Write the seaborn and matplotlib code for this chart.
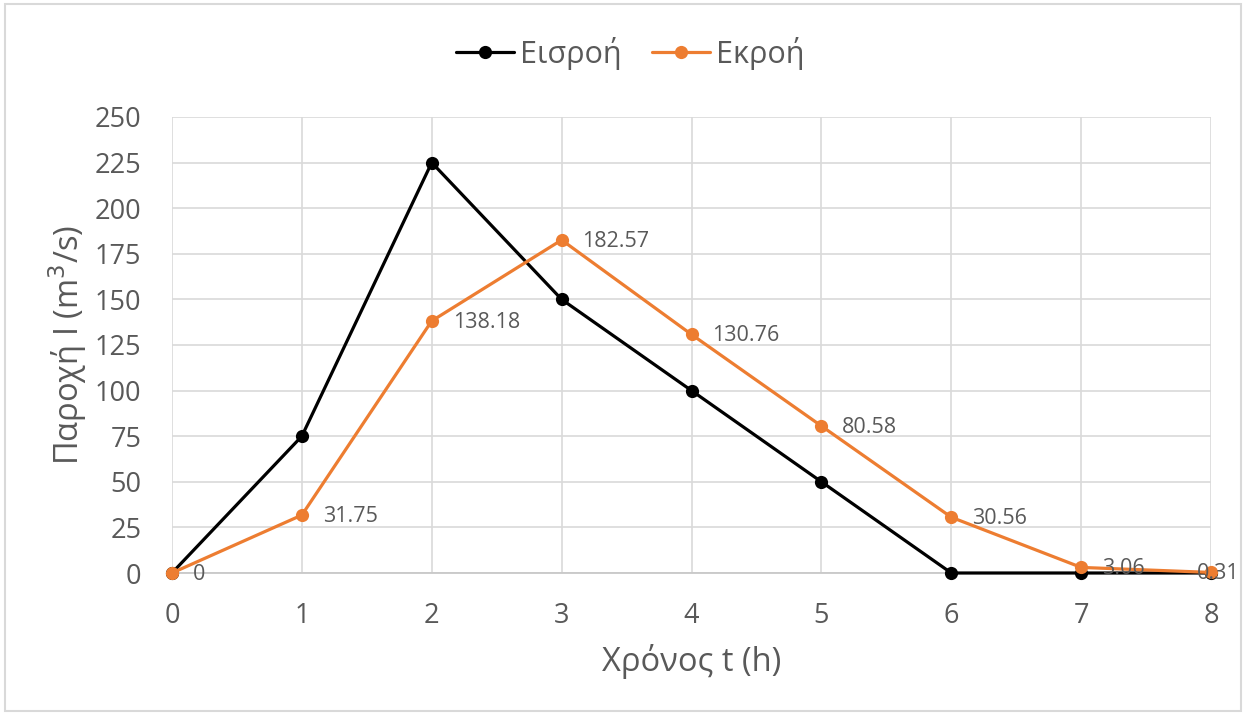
import matplotlib
matplotlib.use("Agg")
import matplotlib.pyplot as plt
import pandas as pd
import seaborn as sns

# Hydrograph data (hours, m3/s)
hours = [0, 1, 2, 3, 4, 5, 6, 7, 8]
inflow = [0, 75, 225, 150, 100, 50, 0, 0, 0]
outflow = [0, 31.75, 138.18, 182.57, 130.76, 80.58, 30.56, 3.06, 0.31]
outflow_labels = ["0", "31.75", "138.18", "182.57", "130.76", "80.58", "30.56", "3.06", "0.31"]
series_names = ["Εισροή", "Εκροή"]
y_ticks = [0, 25, 50, 75, 100, 125, 150, 175, 200, 225, 250]

sns.set_theme(style="white")
plt.rcParams["font.family"] = ["Open Sans", "DejaVu Sans"]

df = pd.DataFrame({
    "t": hours * 2,
    "Q": inflow + outflow,
    "series": [series_names[0]] * len(hours) + [series_names[1]] * len(hours),
})

TXT = "#595959"
GRID = "#d9d9d9"
palette = {series_names[0]: "#000000", series_names[1]: "#ed7d31"}

fig = plt.figure(figsize=(12.46, 7.15), dpi=100)
ax = fig.add_axes([0.138, 0.1986, 0.834, 0.6378])

sns.lineplot(data=df, x="t", y="Q", hue="series", palette=palette,
             marker="o", markersize=9.5, markeredgewidth=0, linewidth=2.3,
             ax=ax, legend=True)
for ln in ax.lines:
    ln.set_clip_on(False)
    ln.set_zorder(3)

for i, (x, y, lab) in enumerate(zip(hours, outflow, outflow_labels)):
    dx = -10 if i == len(hours) - 1 else 15
    ax.annotate(lab, (x, y), xytext=(dx, -1), textcoords="offset points",
                fontsize=15.5, color=TXT, va="center", ha="left",
                annotation_clip=False, zorder=4)

ax.set_xlim(0, 8)
ax.set_ylim(0, 250)
ax.set_yticks(y_ticks)
ax.set_xticks(hours)
ax.grid(True, color=GRID, linewidth=1.2)
ax.set_axisbelow(True)
for s in ["top", "right"]:
    ax.spines[s].set_visible(False)
ax.spines["left"].set_visible(False)
ax.spines["bottom"].set_color("#c8c8c8")
ax.spines["bottom"].set_linewidth(1.3)
ax.tick_params(axis="both", colors=TXT, labelsize=19.5, length=0)
ax.tick_params(axis="y", pad=22)
ax.tick_params(axis="x", pad=21)

ax.set_xlabel("Χρόνος t (h)", fontsize=23.5, color=TXT, labelpad=10)
ax.set_ylabel("Παροχή I (m$^3$/s)", fontsize=23.5, color=TXT, labelpad=4)

leg = ax.legend(loc="center", bbox_to_anchor=(0.441, 1.14), ncol=2,
                frameon=False, fontsize=22, handlelength=1.9,
                columnspacing=1.0, handletextpad=0.2)
for t in leg.get_texts():
    t.set_color(TXT)

# thin figure border like the original chart box
fig.patches.append(plt.Rectangle((0.004, 0.006), 0.992, 0.988, transform=fig.transFigure,
                                 fill=False, edgecolor=GRID, linewidth=1.5))

fig.savefig("out.png", dpi=100)
